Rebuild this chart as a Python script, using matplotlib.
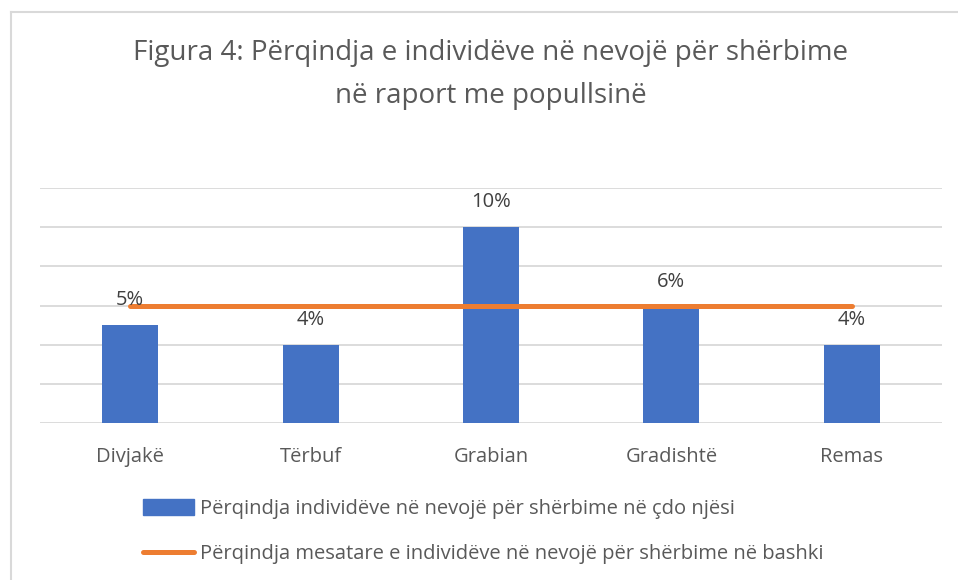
import matplotlib.pyplot as plt
from matplotlib.lines import Line2D
from matplotlib.patches import Patch

plt.rcParams['font.family'] = ['Open Sans', 'DejaVu Sans']

# te dhenat
njesite = ['Divjakë', 'Tërbuf', 'Grabian', 'Gradishtë', 'Remas']
perqindja = [5.0, 4.0, 10.0, 5.9, 4.0]
etiketat = ['5%', '4%', '10%', '6%', '4%']
mesatarja = 5.95

blu = '#4472C4'
portokalli = '#ED7D31'
gri = '#595959'

fig = plt.figure(figsize=(9.58, 5.8), dpi=100)
ax = fig.add_axes([40 / 958, 1 - 423 / 580, 902 / 958, 235 / 580])

x = list(range(len(njesite)))
ax.bar(x, perqindja, width=0.31, color=blu, zorder=2)
ax.plot(x, [mesatarja] * len(x), color=portokalli, lw=3.6,
        solid_capstyle='round', zorder=3)

for xi, v, t in zip(x, perqindja, etiketat):
    ax.annotate(t, (xi, v), xytext=(0, 18), textcoords='offset points',
                ha='center', va='center', fontsize=14.5, color='#404040', zorder=4)

ax.set_xlim(-0.5, len(njesite) - 0.5)
ax.set_ylim(0, 12)
ax.set_yticks(range(0, 13, 2))
ax.yaxis.grid(True, color='#D9D9D9', lw=1.3, zorder=0)
ax.tick_params(axis='y', left=False, labelleft=False)
ax.tick_params(axis='x', length=0, pad=17, labelsize=14.5, labelcolor=gri)
ax.set_xticks(x)
ax.set_xticklabels(njesite)
for s in ax.spines.values():
    s.set_visible(False)

fig.text(0.512, 1 - 53 / 580, 'Figura 4: Përqindja e individëve në nevojë për shërbime',
         ha='center', va='center', fontsize=20, color=gri)
fig.text(0.512, 1 - 96 / 580, 'në raport me popullsinë',
         ha='center', va='center', fontsize=20, color=gri)

handles = [Patch(color=blu),
           Line2D([], [], color=portokalli, lw=3.6, solid_capstyle='round')]
labels = ['Përqindja individëve në nevojë për shërbime në çdo njësi',
          'Përqindja mesatare e individëve në nevojë për shërbime në bashki']
fig.legend(handles, labels, loc='upper left', bbox_to_anchor=(125 / 958, 1 - 481 / 580),
           frameon=False, fontsize=14.5, labelcolor=gri, handlelength=2.55,
           handleheight=0.8, handletextpad=0.25, labelspacing=1.25)

# korniza
fig.add_artist(Line2D([11 / 958, 11 / 958], [0, 1 - 12 / 580],
                      color='#D9D9D9', lw=1.5, transform=fig.transFigure))
fig.add_artist(Line2D([11 / 958, 1], [1 - 12 / 580, 1 - 12 / 580],
                      color='#D9D9D9', lw=1.5, transform=fig.transFigure))

fig.savefig('out.png', dpi=100, facecolor='white')
